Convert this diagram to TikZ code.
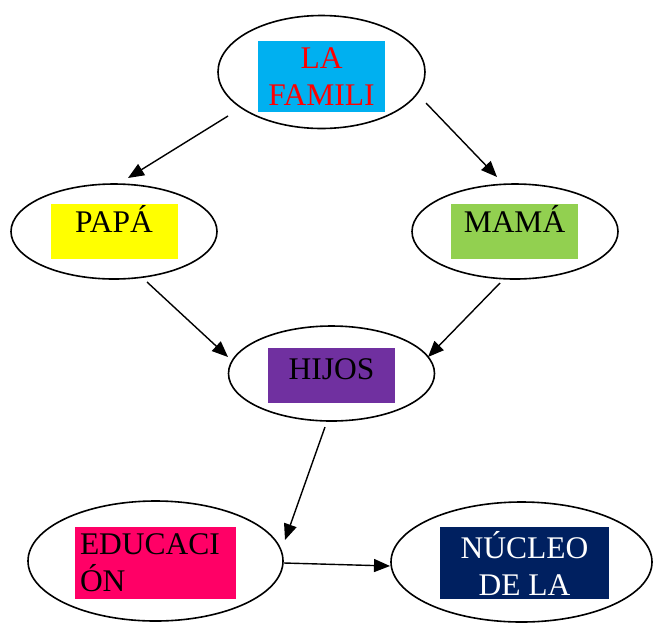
\documentclass[tikz,border=0pt]{standalone}
\usepackage{fontspec}
\setmainfont{Liberation Serif}
\usetikzlibrary{shapes.geometric,arrows.meta}
\definecolor{famblue}{HTML}{00B0F0}
\definecolor{papyellow}{HTML}{FFFF00}
\definecolor{mamgreen}{HTML}{92D050}
\definecolor{hijpurple}{HTML}{7030A0}
\definecolor{edupink}{HTML}{FF0066}
\definecolor{nucnavy}{HTML}{002060}
\begin{document}
\begin{tikzpicture}[x=1pt,y=-1pt,
  oval/.style={draw=black,line width=1.6pt,ellipse,inner sep=0pt},
  labelbox/.style={inner sep=0pt,font=\fontsize{31.5}{37}\selectfont},
  onebox/.style={labelbox,minimum width=127pt,text height=28pt,text depth=27pt},
  arr/.style={line width=1.4pt,-{Triangle[length=16pt,width=13pt]}}]
\useasboundingbox (0,0) rectangle (655,622);
% ovals
\node[oval,minimum width=207pt,minimum height=113pt] (fam) at (321.5,72) {};
\node[oval,minimum width=206pt,minimum height=95pt] (pap) at (114,231.5) {};
\node[oval,minimum width=206pt,minimum height=95pt] (mam) at (515,231.5) {};
\node[oval,minimum width=206pt,minimum height=95pt] (hij) at (331.5,373.5) {};
\node[oval,minimum width=255pt,minimum height=120pt] (edu) at (155.5,561) {};
\node[oval,minimum width=261pt,minimum height=120pt] (nuc) at (521.5,562) {};
% coloured labels
\node[labelbox,fill=famblue,text=red,minimum width=127pt,minimum height=71pt,align=center] (famt) at (321.5,76.5) {LA\\FAMILI};
\node[onebox,fill=papyellow] (papt) at (114,231.5) {PAPÁ};
\node[onebox,fill=mamgreen] (mamt) at (514.5,231.5) {MAMÁ};
\node[labelbox,fill=hijpurple,minimum width=127pt,text height=31pt,text depth=24pt] (hijt) at (331.5,375.5) {HIJOS};
\node[labelbox,fill=edupink,minimum width=161pt,minimum height=72pt,text width=151pt,align=left] (edut) at (155.5,563) {EDUCACI\\ÓN};
\node[labelbox,fill=nucnavy,text=white,minimum width=169pt,minimum height=72pt,align=center] (nuct) at (524.5,563) {NÚCLEO\\DE LA};
% connector ends
\coordinate (famL) at (228,116);
\coordinate (famR) at (426,103);
\coordinate (papIn) at (128,178);
\coordinate (mamIn) at (497,177);
\coordinate (papOut) at (147,282);
\coordinate (mamOut) at (500,283);
\coordinate (hijInL) at (228,357);
\coordinate (hijInR) at (428,357);
\coordinate (hijOut) at (325,427);
\coordinate (eduIn) at (285,540);
\coordinate (eduOut) at (284,563);
\coordinate (nucIn) at (390,566);
% connectors
\draw[arr] (famL) -- (papIn);
\draw[arr] (famR) -- (mamIn);
\draw[arr] (papOut) -- (hijInL);
\draw[arr] (mamOut) -- (hijInR);
\draw[arr] (hijOut) -- (eduIn);
\draw[arr] (eduOut) -- (nucIn);
\end{tikzpicture}
\end{document}
